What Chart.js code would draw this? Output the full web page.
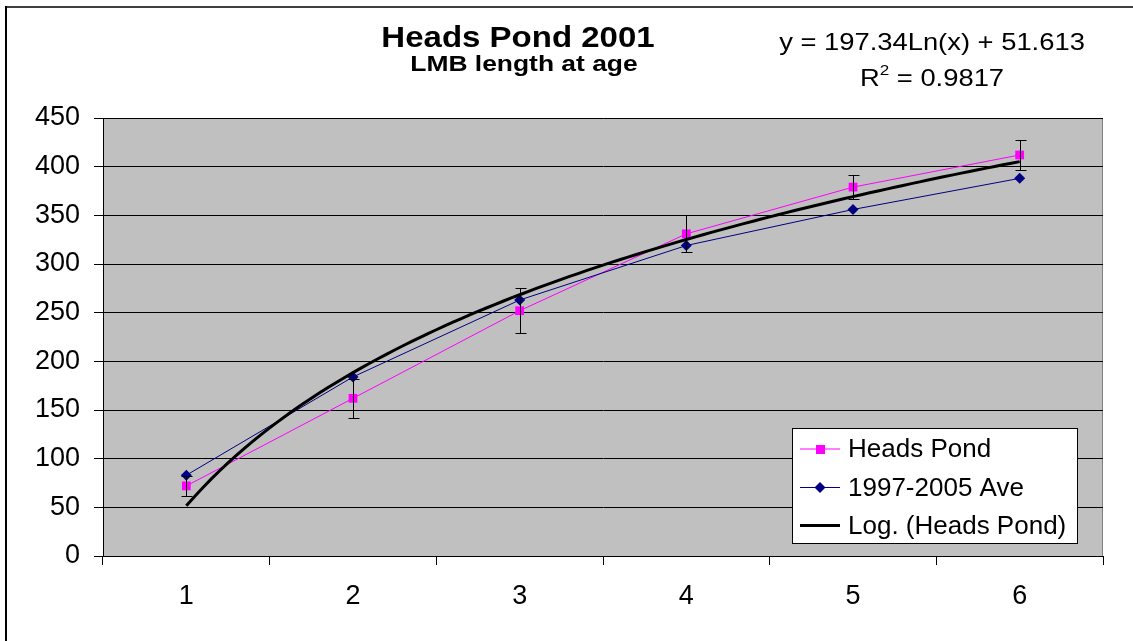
<!DOCTYPE html>
<html>
<head>
<meta charset="utf-8">
<script src="https://cdn.jsdelivr.net/npm/chart.js@4.4.0/dist/chart.umd.min.js"></script>
<style>
html,body{margin:0;padding:0;background:#fff;}
#wrap{width:1133px;height:641px;}
</style>
</head>
<body>
<div id="wrap"><canvas id="c" width="1133" height="641"></canvas></div>
<script>
// data
var ages = ['1', '2', '3', '4', '5', '6']
var headsPond = [72, 162, 252, 331, 379, 412]
var headsErr = [10, 20, 23, 19, 12, 15]
var aveLength = [83, 184, 263, 319, 356, 388]

// trendline as printed on the chart
var fitSlope = 197.34
var fitIntercept = 51.613
var fitR2 = 0.9817

var FONT = '"Liberation Sans", Arial, sans-serif'

function to_points(vals){
    return vals.map(function(v, i){ return {x: i + 1, y: v} })
}

// the fitted log curve, sampled from age 1 to 6
var trend = []
for(var i = 0; i <= 100; i++){
    var xx = 1 + i * 0.05
    trend.push({x: xx, y: fitSlope * Math.log(xx) + fitIntercept})
}

// scaled text helper (the source picture is a bit wide)
function stretch_text(ctx, txt, cx, y, sx, align){
    ctx.save()
    ctx.translate(cx, y)
    ctx.scale(sx, 1)
    ctx.textAlign = align || 'center'
    ctx.fillText(txt, 0, 0)
    ctx.restore()
}

var decorations = {
    id: 'decorations',
    beforeDraw: function(chart){
        var ctx = chart.ctx
        var a = chart.chartArea
        ctx.save()
        ctx.fillStyle = '#fff'
        ctx.fillRect(0, 0, chart.width, chart.height)
        ctx.fillStyle = '#C0C0C0'
        ctx.fillRect(a.left, a.top, a.right - a.left, a.bottom - a.top)
        ctx.strokeStyle = '#808080'
        ctx.lineWidth = 1
        ctx.strokeRect(a.left + 0.5, a.top + 0.5, a.right - a.left - 1, a.bottom - a.top)
        // outer frame (top and left only are visible)
        ctx.fillStyle = '#404040'
        ctx.fillRect(6, 6, chart.width - 6, 2)
        ctx.fillStyle = '#000'
        ctx.fillRect(5, 6, 2, chart.height - 6)
        ctx.restore()
    },
    afterDatasetsDraw: function(chart){
        var ctx = chart.ctx
        var xs = chart.scales.xl, ys = chart.scales.y
        ctx.save()
        // error bars on Heads Pond
        ctx.strokeStyle = '#000'
        ctx.lineWidth = 1
        for(var i = 0; i < headsPond.length; i++){
            var px = Math.round(xs.getPixelForValue(i + 1)) + 0.5
            var top = Math.round(ys.getPixelForValue(headsPond[i] + headsErr[i])) + 0.5
            var bot = Math.round(ys.getPixelForValue(headsPond[i] - headsErr[i])) + 0.5
            ctx.beginPath()
            ctx.moveTo(px, top); ctx.lineTo(px, bot)
            ctx.moveTo(px - 5, top); ctx.lineTo(px + 6, top)
            ctx.moveTo(px - 5, bot); ctx.lineTo(px + 6, bot)
            ctx.stroke()
        }
        ctx.restore()
    },
    afterDraw: function(chart){
        var ctx = chart.ctx
        ctx.save()
        ctx.fillStyle = '#000'
        ctx.textBaseline = 'alphabetic'
        // titles
        ctx.font = 'bold 30px ' + FONT
        stretch_text(ctx, 'Heads Pond 2001', 518, 47, 1.1)
        ctx.font = 'bold 22px ' + FONT
        stretch_text(ctx, 'LMB length at age', 524, 71, 1.2)
        // equation
        ctx.font = '24px ' + FONT
        stretch_text(ctx, 'y = ' + fitSlope + 'Ln(x) + ' + fitIntercept, 932, 50, 1.14)
        var sx = 1.14
        var w1 = ctx.measureText('R').width * sx
        var rest = ' = ' + fitR2
        var w3 = ctx.measureText(rest).width * sx
        ctx.font = '15px ' + FONT
        var w2 = ctx.measureText('2').width * sx
        var x0 = 932 - (w1 + w2 + w3) / 2
        stretch_text(ctx, '2', x0 + w1, 75, sx, 'left')
        ctx.font = '24px ' + FONT
        stretch_text(ctx, 'R', x0, 86, sx, 'left')
        stretch_text(ctx, rest, x0 + w1 + w2, 86, sx, 'left')

        // legend box
        var lx = 792, ly = 428, lw = 285, lh = 115
        ctx.fillStyle = '#fff'
        ctx.fillRect(lx, ly, lw, lh)
        ctx.strokeStyle = '#000'
        ctx.lineWidth = 1
        ctx.strokeRect(lx + 0.5, ly + 0.5, lw, lh)
        var order = [1, 2, 0]
        var rowY = [449, 487.5, 525.5]
        ctx.font = '26px ' + FONT
        ctx.textAlign = 'left'
        order.forEach(function(di, r){
            var ds = chart.data.datasets[di]
            var y = rowY[r]
            ctx.strokeStyle = ds.borderColor
            ctx.lineWidth = ds.borderWidth
            ctx.beginPath()
            ctx.moveTo(800, y); ctx.lineTo(840, y)
            ctx.stroke()
            if(ds.pointRadius > 0){
                ctx.fillStyle = ds.pointBackgroundColor
                if(ds.pointStyle === 'rect'){
                    ctx.fillRect(816, y - 4, 9, 9)
                } else {
                    ctx.beginPath()
                    ctx.moveTo(820, y - 5.5); ctx.lineTo(825.5, y)
                    ctx.lineTo(820, y + 5.5); ctx.lineTo(814.5, y)
                    ctx.closePath(); ctx.fill()
                }
            }
            ctx.fillStyle = '#000'
            ctx.fillText(ds.label, 848, y + 8)
        })
        ctx.restore()
    }
}

new Chart(document.getElementById('c').getContext('2d'), {
    type: 'line',
    data: {
        datasets: [{
            label: 'Log. (Heads Pond)',
            data: trend,
            xAxisID: 'xl',
            borderColor: '#000',
            borderWidth: 3,
            pointRadius: 0,
            tension: 0,
            order: 0
        }, {
            label: 'Heads Pond',
            data: to_points(headsPond),
            xAxisID: 'xl',
            borderColor: '#FF00FF',
            backgroundColor: '#FF00FF',
            pointBackgroundColor: '#FF00FF',
            pointBorderColor: '#FF00FF',
            pointStyle: 'rect',
            pointRadius: 6.2,
            pointBorderWidth: 0,
            borderWidth: 1,
            order: 2
        }, {
            label: '1997-2005 Ave',
            data: to_points(aveLength),
            xAxisID: 'xl',
            borderColor: '#000080',
            backgroundColor: '#000080',
            pointBackgroundColor: '#000080',
            pointBorderColor: '#000080',
            pointStyle: 'rectRot',
            pointRadius: 5.5,
            pointBorderWidth: 0,
            borderWidth: 1,
            order: 1
        }]
    },
    options: {
        responsive: false,
        animation: false,
        devicePixelRatio: 1,
        layout: {padding: {top: 118, right: 30, left: 0, bottom: 0}},
        plugins: {legend: {display: false}, tooltip: {enabled: false}},
        scales: {
            x: {
                type: 'category',
                labels: ages,
                offset: true,
                position: 'bottom',
                grid: {offset: true, drawOnChartArea: false, color: '#000', tickLength: 9},
                border: {color: '#000', width: 1},
                ticks: {color: '#000', font: {family: FONT, size: 27}, padding: 15},
                afterFit: function(s){ s.height = 85 }
            },
            xl: {
                type: 'linear',
                axis: 'x',
                position: 'bottom',
                min: 0.5,
                max: 6.5,
                display: false
            },
            y: {
                min: 0,
                max: 450,
                ticks: {stepSize: 50, color: '#000', font: {family: FONT, size: 27}, padding: 14},
                grid: {color: '#000', tickLength: 9},
                border: {color: '#000', width: 1},
                afterFit: function(s){ s.width = 103 }
            }
        }
    },
    plugins: [decorations]
});
</script>
</body>
</html>
